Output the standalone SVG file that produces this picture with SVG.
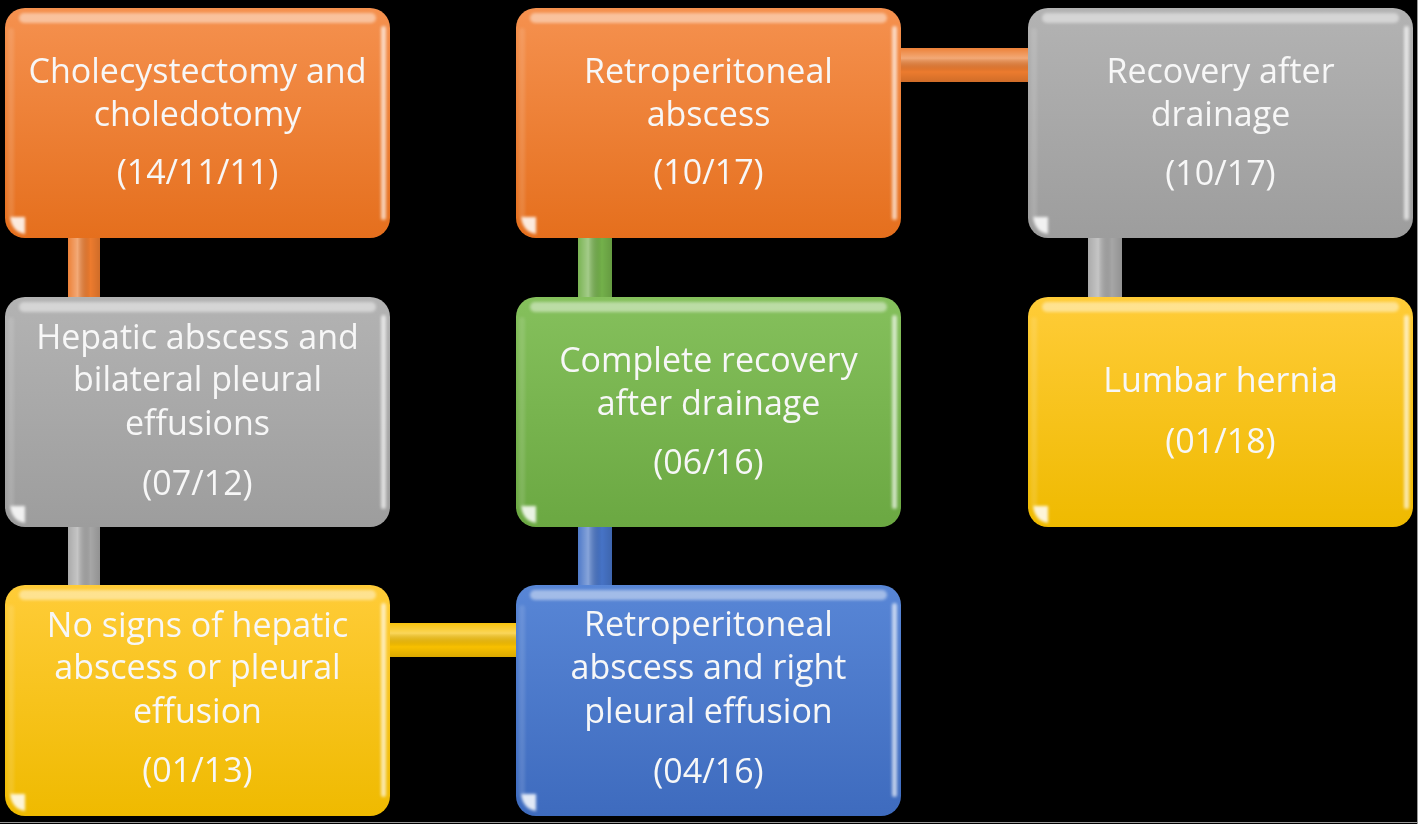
<svg xmlns="http://www.w3.org/2000/svg" width="1418" height="824" viewBox="0 0 1418 824">
<defs>
<style>
.t{font-family:"Open Sans","Liberation Sans",sans-serif;font-size:34px;fill:#F7F7F7;text-anchor:middle}
</style>
<linearGradient id="gOr" x1="0" y1="0" x2="0" y2="1"><stop offset="0" stop-color="#F5914F"/><stop offset="1" stop-color="#E56F1D"/></linearGradient>
<linearGradient id="gGy" x1="0" y1="0" x2="0" y2="1"><stop offset="0" stop-color="#B3B3B3"/><stop offset="1" stop-color="#9D9D9D"/></linearGradient>
<linearGradient id="gYe" x1="0" y1="0" x2="0" y2="1"><stop offset="0" stop-color="#FFCC38"/><stop offset="1" stop-color="#EFBA00"/></linearGradient>
<linearGradient id="gGr" x1="0" y1="0" x2="0" y2="1"><stop offset="0" stop-color="#85C05C"/><stop offset="1" stop-color="#6BA842"/></linearGradient>
<linearGradient id="gBl" x1="0" y1="0" x2="0" y2="1"><stop offset="0" stop-color="#5886D6"/><stop offset="1" stop-color="#3E6BBE"/></linearGradient>
<linearGradient id="cyV" x1="0" y1="0" x2="1" y2="0"><stop offset="0" stop-color="#fff" stop-opacity="0.05"/><stop offset="0.3" stop-color="#fff" stop-opacity="0.35"/><stop offset="0.7" stop-color="#000" stop-opacity="0"/><stop offset="1" stop-color="#000" stop-opacity="0.12"/></linearGradient>
<linearGradient id="cyH" x1="0" y1="0" x2="0" y2="1"><stop offset="0" stop-color="#fff" stop-opacity="0.05"/><stop offset="0.3" stop-color="#fff" stop-opacity="0.35"/><stop offset="0.7" stop-color="#000" stop-opacity="0"/><stop offset="1" stop-color="#000" stop-opacity="0.12"/></linearGradient>
<filter id="bl" x="-10%" y="-10%" width="120%" height="120%"><feGaussianBlur stdDeviation="1.8"/></filter>
<g id="bevel">
<g filter="url(#bl)">
<rect x="14" y="5" width="357" height="10" rx="5" fill="#fff" opacity="0.45"/>
<rect x="376" y="18" width="5" height="194" rx="2.5" fill="#fff" opacity="0.65"/>
<rect x="3" y="20" width="6" height="190" rx="3" fill="#fff" opacity="0.12"/>
<path d="M5 209 L20 209 L20 226 Q7 224 5 209 Z" fill="#fff" opacity="0.85"/>
</g>
</g>
</defs>
<rect x="0" y="0" width="1418" height="824" fill="#000"/>
<line x1="1417.5" y1="0" x2="1417.5" y2="824" stroke="#9a9a9a" stroke-width="1"/>
<line x1="0" y1="822.5" x2="1418" y2="822.5" stroke="#9a9a9a" stroke-width="1"/>

<g id="connectors">
<rect x="68" y="236" width="32" height="63" fill="#EC7B2E"/><rect x="68" y="236" width="32" height="63" fill="url(#cyV)"/>
<rect x="68" y="525" width="32" height="62" fill="#A6A6A6"/><rect x="68" y="525" width="32" height="62" fill="url(#cyV)"/>
<rect x="388" y="623" width="131" height="34" fill="#F8C000"/><rect x="388" y="623" width="131" height="34" fill="url(#cyH)"/>
<rect x="578" y="525" width="34" height="62" fill="#4673C6"/><rect x="578" y="525" width="34" height="62" fill="url(#cyV)"/>
<rect x="578" y="236" width="34" height="63" fill="#73B04A"/><rect x="578" y="236" width="34" height="63" fill="url(#cyV)"/>
<rect x="898" y="48" width="132" height="34" fill="#EC7B2E"/><rect x="898" y="48" width="132" height="34" fill="url(#cyH)"/>
<rect x="1088" y="236" width="34" height="63" fill="#A6A6A6"/><rect x="1088" y="236" width="34" height="63" fill="url(#cyV)"/>
</g>

<g id="n1" transform="translate(5,8)">
<rect width="385" height="230" rx="20" fill="url(#gOr)"/><use href="#bevel"/>
<text class="t" x="192.5" y="75">Cholecystectomy and</text>
<text class="t" x="192.5" y="118">choledotomy</text>
<text class="t" x="192.5" y="176">(14/11/11)</text>
</g>
<g id="n2" transform="translate(5,297)">
<rect width="385" height="230" rx="20" fill="url(#gGy)"/><use href="#bevel"/>
<text class="t" x="192.5" y="52">Hepatic abscess and</text>
<text class="t" x="192.5" y="94">bilateral pleural</text>
<text class="t" x="192.5" y="138">effusions</text>
<text class="t" x="192.5" y="198">(07/12)</text>
</g>
<g id="n3" transform="translate(5,585)">
<rect width="385" height="231" rx="20" fill="url(#gYe)"/><use href="#bevel"/>
<text class="t" x="192.5" y="52">No signs of hepatic</text>
<text class="t" x="192.5" y="94">abscess or pleural</text>
<text class="t" x="192.5" y="138">effusion</text>
<text class="t" x="192.5" y="197">(01/13)</text>
</g>
<g id="n4" transform="translate(516,585)">
<rect width="385" height="231" rx="20" fill="url(#gBl)"/><use href="#bevel"/>
<text class="t" x="192.5" y="51">Retroperitoneal</text>
<text class="t" x="192.5" y="94">abscess and right</text>
<text class="t" x="192.5" y="138">pleural effusion</text>
<text class="t" x="192.5" y="198">(04/16)</text>
</g>
<g id="n5" transform="translate(516,297)">
<rect width="385" height="230" rx="20" fill="url(#gGr)"/><use href="#bevel"/>
<text class="t" x="192.5" y="75">Complete recovery</text>
<text class="t" x="192.5" y="118">after drainage</text>
<text class="t" x="192.5" y="177">(06/16)</text>
</g>
<g id="n6" transform="translate(516,8)">
<rect width="385" height="230" rx="20" fill="url(#gOr)"/><use href="#bevel"/>
<text class="t" x="192.5" y="75">Retroperitoneal</text>
<text class="t" x="192.5" y="118">abscess</text>
<text class="t" x="192.5" y="176">(10/17)</text>
</g>
<g id="n7" transform="translate(1028,8)">
<rect width="385" height="230" rx="20" fill="url(#gGy)"/><use href="#bevel"/>
<text class="t" x="192.5" y="75">Recovery after</text>
<text class="t" x="192.5" y="118">drainage</text>
<text class="t" x="192.5" y="177">(10/17)</text>
</g>
<g id="n8" transform="translate(1028,297)">
<rect width="385" height="230" rx="20" fill="url(#gYe)"/><use href="#bevel"/>
<text class="t" x="192.5" y="95">Lumbar hernia</text>
<text class="t" x="192.5" y="156">(01/18)</text>
</g>
</svg>
